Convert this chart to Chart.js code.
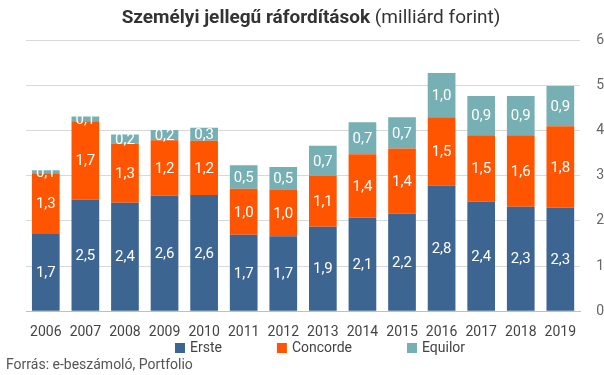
<!DOCTYPE html>
<html>
<head>
<meta charset="utf-8">
<script src="https://cdn.jsdelivr.net/npm/chart.js@4/dist/chart.umd.min.js"></script>
<style>
  body { margin: 0; background: #fff; }
  #wrap { width: 604px; height: 375px; }
</style>
</head>
<body>
<div id="wrap"><canvas id="chart" width="604" height="375"></canvas></div>
<script>
"use strict";

const years = ['2006', '2007', '2008', '2009', '2010', '2011', '2012', '2013', '2014', '2015', '2016', '2017', '2018', '2019'];
const erste = [1.71, 2.47, 2.40, 2.56, 2.57, 1.69, 1.66, 1.87, 2.07, 2.16, 2.78, 2.42, 2.31, 2.29];
const concorde = [1.34, 1.73, 1.31, 1.22, 1.20, 1.02, 1.02, 1.12, 1.40, 1.44, 1.51, 1.47, 1.58, 1.80];
const equilor = [0.07, 0.11, 0.20, 0.23, 0.29, 0.52, 0.51, 0.67, 0.71, 0.69, 0.98, 0.87, 0.87, 0.89];

const FONT = 'Roboto, "Noto Sans", sans-serif';

// white value labels in the middle of every segment
const barLabels = {
  id: 'barLabels',
  afterDatasetsDraw(chart) {
    const ctx = chart.ctx;
    ctx.save();
    ctx.font = '15px ' + FONT;
    ctx.fillStyle = '#fff';
    ctx.textAlign = 'center';
    ctx.textBaseline = 'middle';
    chart.data.datasets.forEach((ds, i) => {
      chart.getDatasetMeta(i).data.forEach((bar, j) => {
        const txt = ds.data[j].toFixed(1).replace('.', ',');
        ctx.fillText(txt, bar.x, (bar.y + bar.base) / 2 + 1);
      });
    });
    ctx.restore();
  }
};

// title (bold + normal), legend row and source line
const texts = {
  id: 'texts',
  afterDraw(chart) {
    const ctx = chart.ctx;
    ctx.save();
    const bold = 'Személyi jellegű ráfordítások';
    const normal = ' (milliárd forint)';
    ctx.textBaseline = 'middle';
    ctx.font = 'bold 19px ' + FONT;
    const wb = ctx.measureText(bold).width;
    ctx.font = '19px ' + FONT;
    const wn = ctx.measureText(normal).width;
    const x0 = 311 - (wb + wn) / 2;
    ctx.fillStyle = '#333';
    ctx.textAlign = 'left';
    ctx.font = 'bold 19px ' + FONT;
    ctx.fillText(bold, x0, 18);
    ctx.font = '19px ' + FONT;
    ctx.fillText(normal, x0 + wb, 18);

    // legend
    ctx.font = '14px ' + FONT;
    const box = 10, gapText = 5, gapItem = 55;
    const items = chart.data.datasets.map(ds => ({
      label: ds.label,
      color: ds.backgroundColor,
      w: box + gapText + ctx.measureText(ds.label).width
    }));
    const total = items.reduce((s, it) => s + it.w, 0) + gapItem * (items.length - 1);
    let x = 320 - total / 2;
    const ly = 348;
    items.forEach(it => {
      ctx.fillStyle = it.color;
      ctx.fillRect(x, ly - box / 2, box, box);
      ctx.fillStyle = '#444';
      ctx.fillText(it.label, x + box + gapText, ly);
      x += it.w + gapItem;
    });

    ctx.font = '14px ' + FONT;
    ctx.fillStyle = '#555';
    ctx.fillText('Forrás: e-beszámoló, Portfolio', 6, 365);
    ctx.restore();
  }
};

new Chart(document.getElementById('chart'), {
  type: 'bar',
  data: {
    labels: years,
    datasets: [
      { label: 'Erste', data: erste, backgroundColor: '#3d6591' },
      { label: 'Concorde', data: concorde, backgroundColor: '#ff5500' },
      { label: 'Equilor', data: equilor, backgroundColor: '#76b0b4' }
    ]
  },
  options: {
    responsive: false,
    animation: false,
    layout: { padding: { top: 40, left: 26, right: 0, bottom: 29 } },
    datasets: { bar: { categoryPercentage: 1, barPercentage: 0.7 } },
    plugins: {
      title: { display: false },
      tooltip: { enabled: false },
      legend: { display: false }
    },
    scales: {
      x: {
        stacked: true,
        grid: { display: false },
        border: { color: '#bfbfbf' },
        ticks: { color: '#444', font: { family: FONT, size: 14 }, padding: 5 }
      },
      y: {
        stacked: true,
        position: 'right',
        min: 0,
        max: 6,
        ticks: { stepSize: 1, color: '#666', font: { family: FONT, size: 14 }, padding: 8, crossAlign: 'far' },
        grid: { color: '#d9d9d9', drawTicks: false },
        border: { display: false }
      }
    }
  },
  plugins: [barLabels, texts]
});
</script>
</body>
</html>
